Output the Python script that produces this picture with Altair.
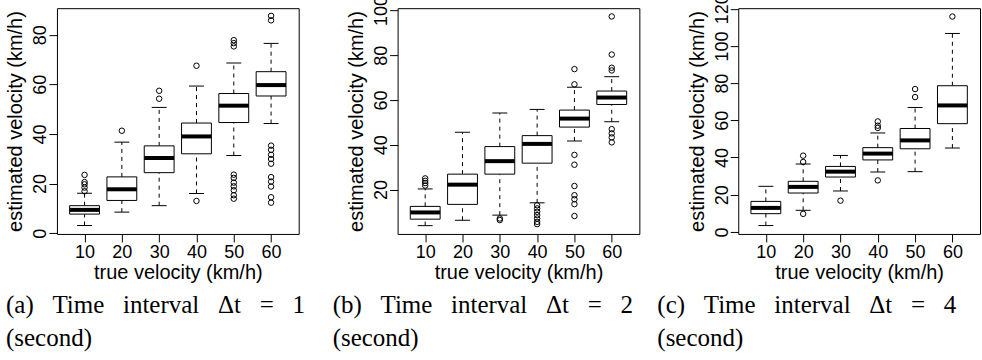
import altair as alt
import pandas as pd

velocities = [10, 20, 30, 40, 50, 60]

# ---- panel (a): time interval 1 s ----
a_low = [3.1, 8.5, 11.1, 16.0, 31.3, 44.2]
a_q1 = [7.7, 13.2, 24.4, 32.0, 44.6, 55.3]
a_med = [9.4, 17.7, 30.3, 39.0, 51.4, 59.7]
a_q3 = [11.1, 22.7, 35.2, 44.4, 56.3, 65.1]
a_high = [16.1, 36.7, 50.7, 59.3, 68.6, 76.5]
a_outliers = [
    [23.5, 20.6, 19.7, 18.4, 16.9],
    [41.3],
    [57.4, 54.2],
    [67.5, 13.0],
    [77.8, 76.6, 75.3, 23.6, 22.3, 20.4, 18.9, 17.3, 15.3, 13.9],
    [87.6, 85.8, 35.3, 33.6, 31.6, 29.9, 28.0, 22.6, 20.8, 18.8, 14.5, 12.3],
]

# ---- panel (b): time interval 2 s ----
b_low = [3.9, 6.3, 8.6, 14.1, 41.7, 50.3]
b_q1 = [6.8, 13.4, 26.9, 31.8, 47.9, 58.0]
b_med = [9.8, 22.2, 32.7, 40.4, 51.7, 61.1]
b_q3 = [12.5, 26.9, 39.2, 44.1, 55.5, 64.0]
b_high = [20.3, 45.6, 54.2, 55.8, 65.7, 70.4]
b_outliers = [
    [25.0, 23.9, 22.9, 21.8],
    [],
    [7.1, 6.4],
    [13.0, 11.6, 10.1, 8.6, 7.1, 5.6, 4.6],
    [73.8, 67.0, 35.5, 31.1, 21.6, 17.5, 15.7, 13.5, 8.2],
    [97.3, 80.3, 74.4, 73.2, 47.0, 45.1, 43.3, 41.1],
]

# ---- panel (c): time interval 4 s ----
c_low = [3.4, 11.6, 22.0, 32.2, 32.4, 45.1]
c_q1 = [9.8, 20.9, 29.5, 38.7, 44.7, 58.2]
c_med = [12.9, 24.2, 32.4, 42.1, 49.2, 68.0]
c_q3 = [16.4, 27.2, 35.2, 45.3, 55.6, 78.6]
c_high = [24.5, 36.5, 41.1, 53.2, 66.9, 106.7]
c_outliers = [
    [],
    [41.0, 37.6, 9.7],
    [16.8],
    [59.4, 57.1, 55.9, 27.7],
    [76.8, 72.5],
    [115.8],
]

y_domains = [[-0.3, 90.7], [0.2, 101.0], [-1.1, 120.3]]
y_ticks = [[0, 20, 40, 60, 80], [20, 40, 60, 80, 100], [0, 20, 40, 60, 80, 100, 120]]
NB = "\u00a0\u00a0\u00a0"
captions = [
    ["(a)" + NB + "Time" + NB + "interval" + NB + "\u0394t" + NB + "=" + NB + "1", "(second)"],
    ["(b)" + NB + "Time" + NB + "interval" + NB + "\u0394t" + NB + "=" + NB + "2", "(second)"],
    ["(c)" + NB + "Time" + NB + "interval" + NB + "\u0394t" + NB + "=" + NB + "4", "(second)"],
]
caption_dx = [-51, -65, -81]

FONT = "Liberation Sans"
W, H = 242, 226
HALF_BOX = 4.0
HALF_STAPLE = 2.0


def panel(i, low, q1, med, q3, high, outliers):
    stats = pd.DataFrame({
        "v": velocities, "low": low, "q1": q1, "med": med, "q3": q3, "high": high,
    })
    stats["xl"] = stats["v"] - HALF_BOX
    stats["xr"] = stats["v"] + HALF_BOX
    stats["sl"] = stats["v"] - HALF_STAPLE
    stats["sr"] = stats["v"] + HALF_STAPLE
    out_rows = [(v, o) for v, lst in zip(velocities, outliers) for o in lst]
    outs = pd.DataFrame(out_rows, columns=["v", "val"])

    xs = alt.Scale(domain=[2.6, 67.4], nice=False, zero=False)
    ys = alt.Scale(domain=y_domains[i], nice=False, zero=False)
    xaxis = alt.Axis(values=velocities, title="true velocity (km/h)", grid=False,
                     domain=False, tickSize=8, tickColor="black", labelColor="black",
                     labelFontSize=18, labelFont=FONT, labelPadding=2, labelOverlap=False,
                     titleFont=FONT, titleFontSize=20, titleFontWeight="normal",
                     titleColor="black", titlePadding=1, labelAngle=0)
    yaxis = alt.Axis(values=y_ticks[i], title="estimated velocity (km/h)", grid=False,
                     domain=False, tickSize=8, tickColor="black", labelColor="black",
                     labelFontSize=18, labelFont=FONT, labelAngle=-90, labelOverlap=False,
                     labelAlign="center", labelBaseline="alphabetic", labelPadding=3,
                     labelSeparation=0,
                     titleFont=FONT, titleFontSize=20, titleFontWeight="normal",
                     titleColor="black", titlePadding=6)

    def X(f):
        return alt.X(f, scale=xs, axis=xaxis)

    def Y(f):
        return alt.Y(f, scale=ys, axis=yaxis)

    base = alt.Chart(stats)
    frame_axes = base.mark_point(opacity=0).encode(x=X("v:Q"), y=Y("med:Q"))
    whisk_hi = base.mark_rule(color="black", strokeWidth=1, strokeDash=[4, 4]).encode(
        x=X("v:Q"), y=Y("q3:Q"), y2="high:Q")
    whisk_lo = base.mark_rule(color="black", strokeWidth=1, strokeDash=[4, 4]).encode(
        x=X("v:Q"), y=Y("low:Q"), y2="q1:Q")
    staple_hi = base.mark_rule(color="black", strokeWidth=1).encode(
        x=X("sl:Q"), x2="sr:Q", y=Y("high:Q"))
    staple_lo = base.mark_rule(color="black", strokeWidth=1).encode(
        x=X("sl:Q"), x2="sr:Q", y=Y("low:Q"))
    box = base.mark_rect(fill="white", stroke="black", strokeWidth=1).encode(
        x=X("xl:Q"), x2="xr:Q", y=Y("q1:Q"), y2="q3:Q")
    median = base.mark_rule(color="black", strokeWidth=4).encode(
        x=X("xl:Q"), x2="xr:Q", y=Y("med:Q"))
    pts = alt.Chart(outs).mark_point(shape="circle", filled=False, color="black",
                                     size=30, strokeWidth=1, opacity=1).encode(
        x=X("v:Q"), y=Y("val:Q"))

    return alt.layer(frame_axes, whisk_hi, whisk_lo, staple_hi, staple_lo, box, median, pts).properties(
        width=W, height=H,
        title=alt.TitleParams(text=captions[i], orient="bottom", anchor="start",
                              frame="group", dx=caption_dx[i], offset=10,
                              font="Liberation Serif", fontSize=25, fontWeight="normal",
                              color="black", lineHeight=33),
    )


chart = alt.hconcat(
    panel(0, a_low, a_q1, a_med, a_q3, a_high, a_outliers),
    panel(1, b_low, b_q1, b_med, b_q3, b_high, b_outliers),
    panel(2, c_low, c_q1, c_med, c_q3, c_high, c_outliers),
    spacing=99, bounds="flush",
).properties(
    padding={"left": 5, "top": -7, "right": 1, "bottom": 4},
    background="white",
).configure_view(
    stroke="black", strokeWidth=1
).configure_axis(labelOverlap=False)

chart.save("out.html", embed_options={"renderer": "svg", "actions": False})
